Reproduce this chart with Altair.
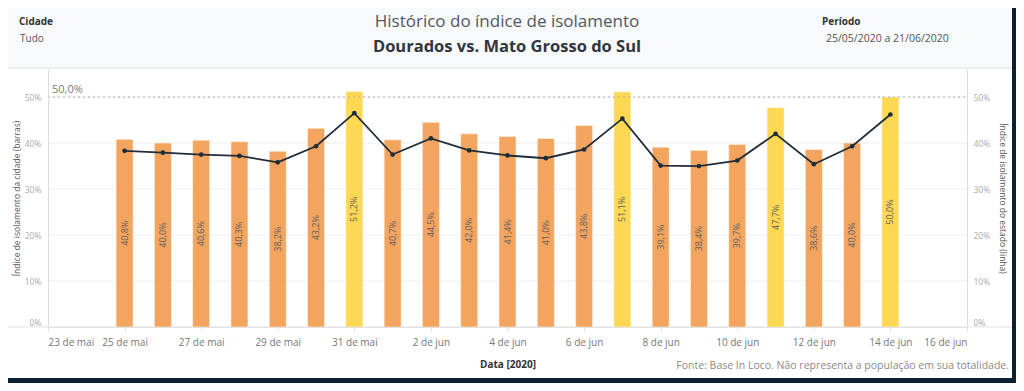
import json
import altair as alt
import pandas as pd

# ---------------- data ----------------
dates = ["2020-05-25", "2020-05-26", "2020-05-27", "2020-05-28", "2020-05-29", "2020-05-30", "2020-05-31",
         "2020-06-01", "2020-06-02", "2020-06-03", "2020-06-04", "2020-06-05", "2020-06-06", "2020-06-07",
         "2020-06-08", "2020-06-09", "2020-06-10", "2020-06-11", "2020-06-12", "2020-06-13", "2020-06-14"]
city_pct = [40.8, 40.0, 40.6, 40.3, 38.2, 43.2, 51.2, 40.7, 44.5, 42.0, 41.4,
            41.0, 43.8, 51.1, 39.1, 38.4, 39.7, 47.7, 38.6, 40.0, 50.0]
state_pct = [38.3, 37.9, 37.5, 37.2, 35.8, 39.3, 46.5, 37.5, 41.0, 38.4, 37.3,
             36.7, 38.6, 45.3, 35.1, 35.0, 36.2, 42.0, 35.4, 39.3, 46.2]
day_type = ["comum", "comum", "comum", "comum", "comum", "comum", "domingo/feriado",
            "comum", "comum", "comum", "comum", "comum", "comum", "domingo/feriado",
            "comum", "comum", "comum", "domingo/feriado", "comum", "comum", "domingo/feriado"]

axis_start = "2020-05-23"
x_tick_days = [0, 2, 4, 6, 8, 10, 12, 14, 16, 18, 20, 22, 24]
x_tick_labels = ["23 de mai", "25 de mai", "27 de mai", "29 de mai", "31 de mai", "2 de jun", "4 de jun",
                 "6 de jun", "8 de jun", "10 de jun", "12 de jun", "14 de jun", "16 de jun"]
y_ticks = [0.0, 0.1, 0.2, 0.3, 0.4, 0.5]
y_max = 0.561
ref_value = 0.5
ref_label = "50,0%"

title_text = "Histórico do índice de isolamento"
subtitle_text = "Dourados vs. Mato Grosso do Sul"
filter_city = ["Cidade", "Tudo"]
filter_period = ["Período", "25/05/2020 a 21/06/2020"]
footer_text = "Fonte: Base In Loco. Não representa a população em sua totalidade."
left_title = "Índice de isolamento da cidade (barras)"
right_title = "Índice de isolamento do estado (linha)"
x_title = "Data [2020]"

# ---------------- table ----------------
FONT = "Open Sans"
df = pd.DataFrame({"date": pd.to_datetime(dates), "city": [v / 100 for v in city_pct],
                   "state": [v / 100 for v in state_pct], "tipo": day_type})
df["day"] = (df["date"] - pd.Timestamp(axis_start)).dt.days
df["mid"] = df["city"] / 2
df["label"] = [f"{v:.1f}%".replace(".", ",") for v in city_pct]
grid_df = pd.DataFrame({"y": y_ticks})
ref_df = pd.DataFrame({"y": [ref_value], "t": [ref_label]})
one = pd.DataFrame({"a": [0]})

W, H = 919, 258
xscale = alt.Scale(domain=[0, 24], nice=False, zero=False, padding=0)
yscale = alt.Scale(domain=[0, y_max], nice=False, zero=True, padding=0)
label_expr = json.dumps(x_tick_labels, ensure_ascii=False) + "[round(datum.value / 2)]"

# ---------------- decoration ----------------
panel = alt.Chart(one).mark_rect(fill="white").encode(
    x=alt.value(-45), x2=alt.value(964), y=alt.value(-70), y2=alt.value(309))
header = alt.Chart(one).mark_rect(fill="#f8f9fa").encode(
    x=alt.value(-45), x2=alt.value(964), y=alt.value(-70), y2=alt.value(-1))
sep = alt.Chart(one).mark_rule(color="#dcdde0", strokeWidth=1).encode(
    x=alt.value(-45), x2=alt.value(964), y=alt.value(-1))
baseline = alt.Chart(one).mark_rule(color="#e2e2e2", strokeWidth=1).encode(
    x=alt.value(-45), x2=alt.value(964), y=alt.value(H))


def txt(s, x, y, size, color, weight="normal", align="left"):
    return alt.Chart(one).mark_text(text=s, font=FONT, fontSize=size, color=color, fontWeight=weight,
                                    align=align, baseline="middle").encode(x=alt.value(x), y=alt.value(y))


texts = [
    txt(filter_city[0], -29, -47, 10, "#333333", "bold"),
    txt(filter_city[1], -28, -30, 10, "#555555"),
    txt(title_text, 459, -47, 17, "#4f5862", "normal", "center"),
    txt(subtitle_text, 459, -22, 16.5, "#2f3640", "bold", "center"),
    txt(filter_period[0], 774, -47, 10, "#333333", "bold"),
    txt(filter_period[1], 778, -30, 10.5, "#555555"),
    txt(footer_text, 961, 297, 10.5, "#8a8a8a", "normal", "right"),
]

# ---------------- city layer (left axis) ----------------
left_axis = alt.Axis(values=y_ticks, format=".0%", grid=False, ticks=False, domainColor="#dcdcdc",
                     labelColor="#a9a9a9", labelFontSize=8.5, labelFont=FONT, labelPadding=7, labelFlush=True,
                     title=left_title, titleFont=FONT, titleFontSize=8.5, titleFontWeight="normal",
                     titleColor="#555555", titlePadding=3, zindex=1)
x_axis = alt.Axis(values=x_tick_days, labelExpr=label_expr, labelFlush=True, labelOverlap=False, grid=False,
                  domainColor="#e2e2e2", tickColor="#e2e2e2", tickSize=4, labelColor="#777777",
                  labelFontSize=10, labelFont=FONT, labelPadding=6, title=x_title, titleFont=FONT,
                  titleFontSize=10, titleFontWeight="bold", titleColor="#333333", titlePadding=12, zindex=1)

grid = alt.Chart(grid_df).mark_rule(color="#efefef", strokeWidth=1).encode(
    y=alt.Y("y:Q", scale=yscale, axis=left_axis), x=alt.value(0), x2=alt.value(W))
bars = alt.Chart(df).mark_bar(size=17, stroke="#fff3e6", strokeWidth=0.6).encode(
    x=alt.X("day:Q", scale=xscale, axis=x_axis),
    y=alt.Y("city:Q", scale=yscale),
    color=alt.Color("tipo:N", scale=alt.Scale(domain=["comum", "domingo/feriado"],
                                              range=["#f3a55f", "#fdd853"]), legend=None))
bar_text = alt.Chart(df).mark_text(angle=270, font=FONT, fontSize=9, color="#5f5f5f",
                                   baseline="middle", align="center").encode(
    x=alt.X("day:Q", scale=xscale), y=alt.Y("mid:Q", scale=yscale), text="label:N")
ref_rule = alt.Chart(ref_df).mark_rule(color="#b0b0b0", strokeDash=[2, 3], strokeWidth=1).encode(
    y=alt.Y("y:Q", scale=yscale), x=alt.value(0), x2=alt.value(W))
ref_text = alt.Chart(ref_df).mark_text(font=FONT, fontSize=11, color="#7a7a7a", align="left",
                                       baseline="bottom", dy=-2).encode(
    y=alt.Y("y:Q", scale=yscale), x=alt.value(4), text="t:N")
city_layer = alt.layer(grid, bars, bar_text, ref_rule, ref_text)

# ---------------- state layer (right axis) ----------------
right_axis = alt.Axis(orient="right", values=y_ticks, format=".0%", grid=False, ticks=False,
                      domainColor="#dcdcdc", labelColor="#a9a9a9", labelFontSize=8.5, labelFont=FONT,
                      labelPadding=6, labelFlush=True, title=right_title, titleFont=FONT, titleFontSize=8.5,
                      titleFontWeight="normal", titleColor="#555555", titlePadding=8, zindex=1)
line = alt.Chart(df).mark_line(color="#1f2d3a", strokeWidth=1.8).encode(
    x=alt.X("day:Q", scale=xscale), y=alt.Y("state:Q", scale=yscale, axis=right_axis))
pts = alt.Chart(df).mark_point(filled=True, color="#1f2d3a", size=22, opacity=1).encode(
    x=alt.X("day:Q", scale=xscale), y=alt.Y("state:Q", scale=yscale))
state_layer = alt.layer(line, pts)

chart = alt.layer(panel, header, sep, baseline, city_layer, state_layer, *texts).resolve_scale(
    y="independent").properties(
    width=W, height=H, autosize=alt.AutoSizeParams(type="none"),
    padding={"left": 40, "top": 61, "right": 49, "bottom": 56}, background="#0d1f33"
).configure_view(stroke=None)

chart.save("out.html", embed_options={"renderer": "svg", "actions": False})
